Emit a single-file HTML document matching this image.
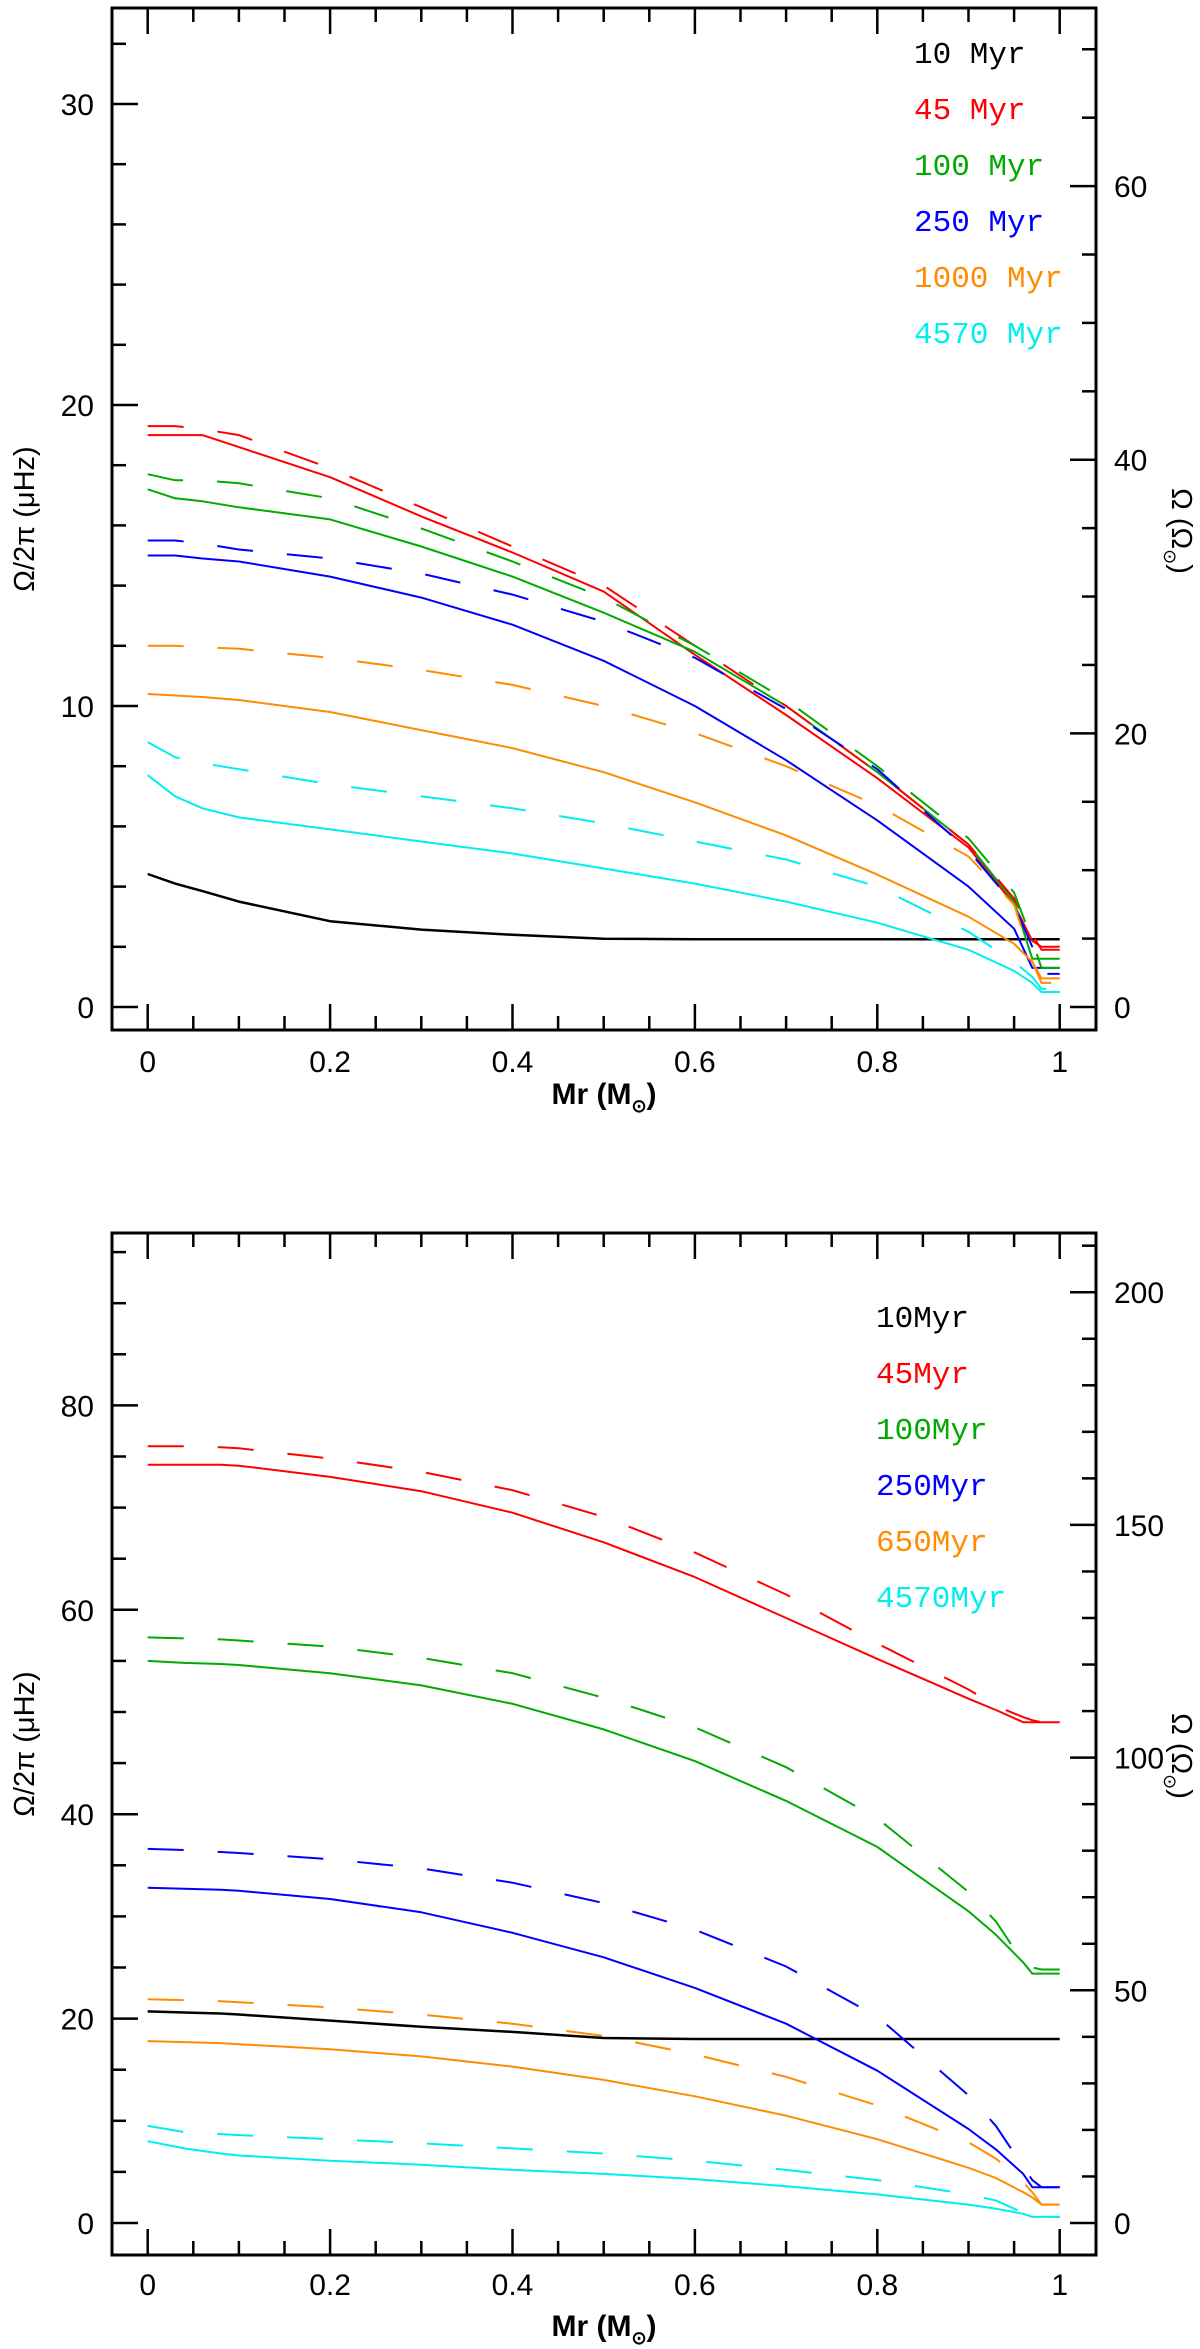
<!DOCTYPE html>
<html><head><meta charset="utf-8">
<style>
html,body{margin:0;padding:0;background:#fff;}
svg{display:block;}
text{font-family:"Liberation Sans",sans-serif;}
.lg{font-family:"Liberation Mono",monospace;font-size:31px;}
</style></head>
<body>
<svg id="fig" width="1200" height="2349" viewBox="0 0 1200 2349" xmlns="http://www.w3.org/2000/svg"></svg>
<script>
// ---------- Data: top panel (Omega/2pi in microHz) ----------
const topX = [0,0.03,0.06,0.1,0.2,0.3,0.4,0.5,0.6,0.7,0.8,0.9,0.95,0.97,0.98,1.0];
const topLabels = ["10 Myr","45 Myr","100 Myr","250 Myr","1000 Myr","4570 Myr"];
const top10Solid   = [4.42,4.1,3.85,3.5,2.85,2.57,2.4,2.27,2.25,2.25,2.25,2.25,2.25,2.25,2.25,2.25];
const top45Solid   = [19.0,19.0,19.0,18.6,17.6,16.3,15.1,13.8,11.7,9.7,7.6,5.3,3.4,2.2,2.0,2.0];
const top45Dash    = [19.3,19.3,19.2,19.0,17.9,16.6,15.3,14.0,12.0,10.0,7.8,5.4,3.6,2.4,1.9,1.9];
const top100Solid  = [17.2,16.9,16.8,16.6,16.2,15.3,14.3,13.1,11.8,10.0,7.8,5.4,3.5,1.6,1.6,1.6];
const top100Dash   = [17.7,17.5,17.5,17.4,16.9,15.9,14.8,13.6,12.0,10.2,8.0,5.6,3.8,2.2,1.3,1.3];
const top250Solid  = [15.0,15.0,14.9,14.8,14.3,13.6,12.7,11.5,10.0,8.2,6.2,4.0,2.6,1.3,1.3,1.3];
const top250Dash   = [15.5,15.5,15.4,15.2,14.9,14.4,13.7,12.8,11.6,9.9,7.9,5.2,3.4,2.0,1.1,1.1];
const top1000Solid = [10.4,10.35,10.3,10.2,9.8,9.2,8.6,7.8,6.8,5.7,4.4,3.0,2.1,1.5,0.95,0.95];
const top1000Dash  = [12.0,12.0,11.95,11.9,11.6,11.2,10.7,10.0,9.1,8.0,6.7,5.0,3.4,1.5,0.8,0.8];
const top4570Solid = [7.7,7.0,6.6,6.3,5.9,5.5,5.1,4.6,4.1,3.5,2.8,1.9,1.2,0.8,0.5,0.5];
const top4570Dash  = [8.8,8.3,8.1,7.9,7.4,7.0,6.6,6.1,5.5,4.9,4.0,2.5,1.5,1.0,0.6,0.6];

// ---------- Data: bottom panel ----------
const botX = [0,0.04,0.08,0.1,0.2,0.3,0.4,0.5,0.6,0.7,0.8,0.9,0.93,0.96,0.97,0.98,1.0];
const botLabels = ["10Myr","45Myr","100Myr","250Myr","650Myr","4570Myr"];
const bot10Solid   = [20.7,20.6,20.5,20.4,19.8,19.2,18.7,18.1,18.0,18.0,18.0,18.0,18.0,18.0,18.0,18.0,18.0];
const bot45Solid   = [74.2,74.2,74.2,74.1,73.0,71.6,69.5,66.6,63.2,59.2,55.2,51.3,50.2,49.0,49.0,49.0,49.0];
const bot45Dash    = [76.0,76.0,75.9,75.8,74.8,73.5,71.7,69.1,65.6,61.5,56.7,52.2,50.6,49.5,49.2,49.0,49.0];
const bot100Solid  = [55.0,54.8,54.7,54.6,53.8,52.6,50.8,48.3,45.2,41.3,36.8,30.5,28.2,25.5,24.4,24.4,24.4];
const bot100Dash   = [57.3,57.2,57.1,57.0,56.4,55.3,53.8,51.4,48.5,44.6,39.6,32.4,29.5,25.5,25.0,24.8,24.8];
const bot250Solid  = [32.8,32.7,32.6,32.5,31.7,30.4,28.4,26.0,23.0,19.5,14.9,9.2,7.2,4.8,3.5,3.5,3.5];
const bot250Dash   = [36.6,36.5,36.3,36.2,35.6,34.7,33.3,31.3,28.7,25.1,20.2,12.5,9.5,5.5,4.2,3.5,3.5];
const bot650Solid  = [17.8,17.7,17.6,17.5,17.0,16.3,15.3,14.0,12.4,10.5,8.2,5.4,4.4,3.0,2.5,1.8,1.8];
const bot650Dash   = [21.9,21.8,21.7,21.6,21.1,20.4,19.5,18.3,16.5,14.3,11.5,7.9,6.3,4.0,3.0,1.8,1.8];
const bot4570Solid = [8.0,7.3,6.8,6.6,6.1,5.7,5.2,4.8,4.3,3.6,2.8,1.8,1.4,0.9,0.6,0.6,0.6];
const bot4570Dash  = [9.5,8.9,8.7,8.6,8.2,7.8,7.3,6.8,6.1,5.2,4.2,2.8,2.2,1.0,0.8,0.6,0.6];

const topSeries = [top10Solid,top45Solid,top100Solid,top250Solid,top1000Solid,top4570Solid];
const topDashed = [null,top45Dash,top100Dash,top250Dash,top1000Dash,top4570Dash];
const botSeries = [bot10Solid,bot45Solid,bot100Solid,bot250Solid,bot650Solid,bot4570Solid];
const botDashed = [null,bot45Dash,bot100Dash,bot250Dash,bot650Dash,bot4570Dash];

const COLORS = ["#000000","#ff0000","#00aa00","#0000ff","#ff8c00","#00eeee"];
const NS = "http://www.w3.org/2000/svg";
const fig = document.getElementById('fig');

function mk(tag, attrs, parent){
  const e = document.createElementNS(NS, tag);
  for (const k in attrs) e.setAttribute(k, attrs[k]);
  (parent||fig).appendChild(e);
  return e;
}

function panel(cfg){
  const g = mk('g', {});
  
  
  const L=112, R=1096, T=cfg.top, B=cfg.bottom;
  const xs = v => 147.7 + v*912;
  const ys = v => cfg.y0 - v*cfg.ppu;
  const ysR = v => cfg.y0 - v*cfg.ppu*cfg.ratio;
  const fr = mk('rect', {x:L,y:T,width:R-L,height:B-T,fill:'none',stroke:'#000','stroke-width':3}, g);
  
  
  for (let i=0;i<=20;i++){
    const v=i*0.05, x=xs(v), len=(i%4===0)?26:14;
    mk('line',{x1:x,y1:B,x2:x,y2:B-len,stroke:'#000','stroke-width':2.5},g);
    mk('line',{x1:x,y1:T,x2:x,y2:T+len,stroke:'#000','stroke-width':2.5},g);
    if (i%4===0){
      const t = mk('text',{x:x,y:cfg.tickBase,'text-anchor':'middle','font-size':30,fill:'#000'},g);
      t.textContent = (v===0?'0':(v===1?'1':v.toFixed(1)));
      
      
    }
  }
  for (let v=0; ys(v)>=T; v+=cfg.lMinor){
    const y=ys(v); const maj = Math.abs(v % cfg.lMajor)<1e-6;
    mk('line',{x1:L,y1:y,x2:L+(maj?26:14),y2:y,stroke:'#000','stroke-width':2.5},g);
    if (maj){
      const t = mk('text',{x:94,y:y+11,'text-anchor':'end','font-size':30,fill:'#000'},g);
      t.textContent = String(v);
      
      
    }
  }
  for (let v=0; ysR(v)>=T; v+=cfg.rMinor){
    const y=ysR(v); const maj = Math.abs(v % cfg.rMajor)<1e-6;
    mk('line',{x1:R,y1:y,x2:R-(maj?26:14),y2:y,stroke:'#000','stroke-width':2.5},g);
    if (maj){
      const t = mk('text',{x:1114,y:y+11,'text-anchor':'start','font-size':30,fill:'#000'},g);
      t.textContent = String(v);
      
      
    }
  }
  cfg.solid.forEach((arr,i)=>{
    const pts = cfg.x.map((xv,j)=>xs(xv).toFixed(1)+','+ys(arr[j]).toFixed(1)).join(' ');
    const p = mk('polyline',{points:pts,fill:'none',stroke:COLORS[i],'stroke-width':i===0?2.5:2,'stroke-linejoin':'round'},g);
    
    
  });
  cfg.dashed.forEach((arr,i)=>{
    if(!arr) return;
    const pts = cfg.x.map((xv,j)=>xs(xv).toFixed(1)+','+ys(arr[j]).toFixed(1)).join(' ');
    const p = mk('polyline',{points:pts,fill:'none',stroke:COLORS[i],'stroke-width':2,'stroke-dasharray':'36 34'},g);
    
    
  });
  cfg.labels.forEach((lab,i)=>{
    const t = mk('text',{x:cfg.legX,y:cfg.legY+i*56,class:'lg',style:'fill:'+COLORS[i]},g);
    t.textContent = lab;
    
    
  });
  const cy = (T+B)/2;
  const yl = mk('text',{x:0,y:0,'font-size':29,'text-anchor':'middle',fill:'#000',transform:`translate(34,${cy}) rotate(-90)`},g);
  yl.textContent = 'Ω/2π   (μHz)';
  
  
  const yr = mk('text',{x:0,y:0,'font-size':29,'text-anchor':'middle',fill:'#000',transform:`translate(1172,${cy+12}) rotate(90)`},g);
  yr.innerHTML = 'Ω  (Ω<tspan font-size="18" dy="8">⊙</tspan><tspan dy="-8">)</tspan>';
  
  
  const xl = mk('text',{x:604,y:cfg.titleBase,'font-size':30,'text-anchor':'middle',fill:'#000','font-family':'Liberation Serif, serif','font-weight':'bold'},g);
  xl.innerHTML = 'Mr   (M<tspan font-size="18" dy="8">⊙</tspan><tspan dy="-8">)</tspan>';
  
  
}

panel({name:'top-panel', top:8, bottom:1030, y0:1007, ppu:30.1, ratio:1/2.2,
  lMinor:2, lMajor:10, rMinor:5, rMajor:20, tickBase:1072, titleBase:1104,
  x:topX, solid:topSeries, dashed:topDashed, labels:topLabels, legX:914, legY:63});
panel({name:'bottom-panel', top:1233, bottom:2255, y0:2223, ppu:10.22, ratio:1/2.196,
  lMinor:5, lMajor:20, rMinor:10, rMajor:50, tickBase:2295, titleBase:2336,
  x:botX, solid:botSeries, dashed:botDashed, labels:botLabels, legX:876, legY:1327});
</script>
</body></html>
